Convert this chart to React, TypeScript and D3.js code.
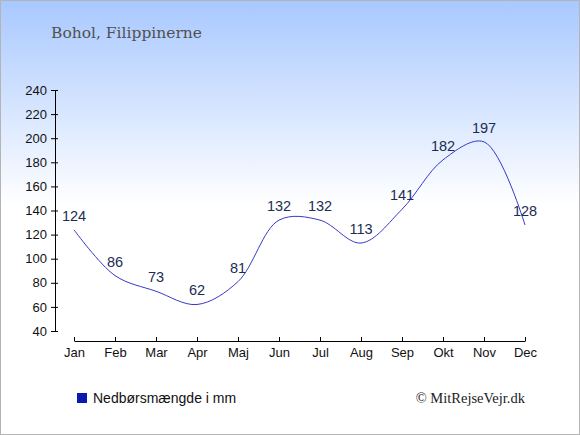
import React, { useEffect, useRef } from "react";
import * as d3 from "d3";

const months = ["Jan", "Feb", "Mar", "Apr", "Maj", "Jun", "Jul", "Aug", "Sep", "Okt", "Nov", "Dec"];
const rainfall = [124, 86, 73, 62, 81, 132, 132, 113, 141, 182, 197, 128];
const yTicks = [40, 60, 80, 100, 120, 140, 160, 180, 200, 220, 240];

const title = "Bohol, Filippinerne";
const legendLabel = "Nedbørsmængde i mm";
const credit = "© MitRejseVejr.dk";

const App: React.FC = () => {
  const svgRef = useRef<SVGSVGElement | null>(null);

  useEffect(() => {
    if (!svgRef.current) return;
    const width = 580;
    const height = 435;
    const svg = d3.select(svgRef.current);
    svg.selectAll("*").remove();

    // background gradient
    const defs = svg.append("defs");
    const grad = defs
      .append("linearGradient")
      .attr("id", "bg")
      .attr("x1", 0)
      .attr("y1", 0)
      .attr("x2", 0)
      .attr("y2", 1);
    grad.append("stop").attr("offset", "0%").attr("stop-color", "#a8c8ff");
    grad.append("stop").attr("offset", "100%").attr("stop-color", "#ffffff");

    svg.append("rect").attr("width", width).attr("height", height).attr("fill", "#ffffff");
    svg.append("rect").attr("width", width).attr("height", 205).attr("fill", "url(#bg)");
    svg
      .append("rect")
      .attr("x", 0.5)
      .attr("y", 0.5)
      .attr("width", width - 1)
      .attr("height", height - 1)
      .attr("fill", "none")
      .attr("stroke", "#b4b4b4");

    const x = d3.scalePoint<string>().domain(months).range([74, 525]);
    const y = d3.scaleLinear().domain([40, 240]).range([331, 90]);

    // y axis
    const yAxis = svg
      .append("g")
      .attr("transform", "translate(55,0)")
      .call(d3.axisLeft(y).tickValues(yTicks).tickSize(4).tickPadding(4).tickSizeOuter(0));
    yAxis.select(".domain").attr("stroke", "#000");
    yAxis.selectAll(".tick line").attr("x2", 3).attr("x1", -4);
    yAxis
      .selectAll("text")
      .attr("font-family", "Liberation Sans, Arial, sans-serif")
      .attr("font-size", "13px")
      .attr("fill", "#111");

    // x axis
    const xAxis = svg
      .append("g")
      .attr("transform", "translate(0,341)")
      .call(d3.axisBottom(x).tickSize(0).tickPadding(7).tickSizeOuter(0));
    xAxis.select(".domain").attr("stroke", "#000");
    xAxis.selectAll(".tick line").attr("y1", -4).attr("y2", 0).attr("stroke", "#000");
    xAxis
      .selectAll("text")
      .attr("font-family", "Liberation Sans, Arial, sans-serif")
      .attr("font-size", "13px")
      .attr("fill", "#111");

    // line
    const line = d3
      .line<number>()
      .x((_, i) => x(months[i]) as number)
      .y((d) => y(d))
      .curve(d3.curveCatmullRom.alpha(0.5));

    svg
      .append("path")
      .datum(rainfall)
      .attr("d", line)
      .attr("fill", "none")
      .attr("stroke", "#3838c8")
      .attr("stroke-width", 1);

    // value labels
    svg
      .selectAll(".val")
      .data(rainfall)
      .join("text")
      .attr("class", "val")
      .attr("x", (_, i) => x(months[i]) as number)
      .attr("y", (d) => y(d) - 9)
      .attr("text-anchor", "middle")
      .attr("font-family", "Liberation Sans, Arial, sans-serif")
      .attr("font-size", "14.5px")
      .attr("fill", "#1c2c54")
      .text((d) => d);

    // title
    svg
      .append("text")
      .attr("x", 51)
      .attr("y", 38)
      .attr("font-family", "DejaVu Serif, serif")
      .attr("font-size", "15.5px")
      .attr("fill", "#505050")
      .text(title);

    // legend
    svg
      .append("rect")
      .attr("x", 77)
      .attr("y", 393)
      .attr("width", 10)
      .attr("height", 10)
      .attr("fill", "#0a1ab0");
    svg
      .append("text")
      .attr("x", 93)
      .attr("y", 403)
      .attr("font-family", "Liberation Sans, Arial, sans-serif")
      .attr("font-size", "14px")
      .attr("fill", "#111")
      .text(legendLabel);

    svg
      .append("text")
      .attr("x", 525)
      .attr("y", 403)
      .attr("text-anchor", "end")
      .attr("font-family", "Liberation Serif, serif")
      .attr("font-size", "14.5px")
      .attr("fill", "#222")
      .text(credit);
  }, []);

  return (
    <svg
      ref={svgRef}
      width={580}
      height={435}
      style={{ position: "absolute", left: 0, top: 0 }}
    ></svg>
  );
};

export default App;
